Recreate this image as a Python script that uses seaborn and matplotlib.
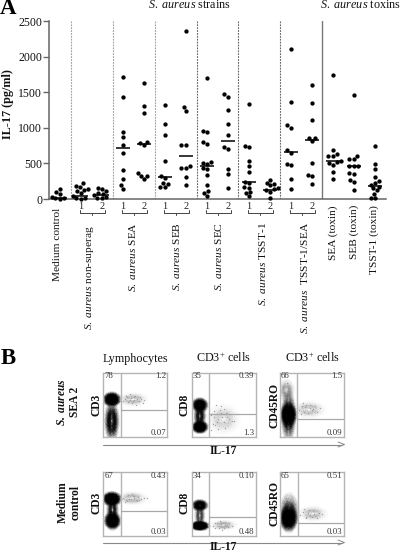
import warnings
import numpy as np
import pandas as pd
import matplotlib
matplotlib.use("Agg")
import matplotlib.pyplot as plt
from matplotlib.lines import Line2D
from matplotlib.colors import LinearSegmentedColormap
from matplotlib.transforms import blended_transform_factory
import seaborn as sns

warnings.filterwarnings("ignore")
sns.set_theme(style="white")
plt.rcParams["font.family"] = ["Liberation Serif", "DejaVu Serif"]
plt.rcParams["mathtext.fontset"] = "custom"
plt.rcParams["mathtext.rm"] = "Liberation Serif"
plt.rcParams["mathtext.it"] = "Liberation Serif:italic"
plt.rcParams["mathtext.bf"] = "Liberation Serif:bold"
plt.rcParams["mathtext.bfit"] = "Liberation Serif:italic:bold"

# ---- Panel A data (pg/ml) ----
categories = ["Medium", "NS1", "NS2", "SEA1", "SEA2", "SEB1", "SEB2", "SEC1", "SEC2",
              "TSST1", "TSST2", "TS1", "TS2", "SEAt", "SEBt", "TSSTt"]
medium = [140, 100, 70, 30, 20, 8, 5]
nonsuper_1 = [225, 185, 173, 140, 130, 115, 80, 40, 20, 10, 5]
nonsuper_2 = [155, 136, 110, 80, 70, 55, 35, 15, 10]
sea_1 = [1717, 1436, 940, 866, 762, 646, 403, 276, 192, 140]
sea_2 = [1624, 1301, 1212, 805, 790, 760, 360, 330, 330, 280]
seb_1 = [1320, 1049, 899, 529, 323, 295, 225, 215, 170, 165]
seb_2 = [2359, 1296, 1240, 758, 758, 468, 431, 431, 313, 197]
sec_1 = [1703, 959, 940, 796, 772, 524, 500, 490, 431, 425, 337, 197, 117, 88, 42]
sec_2 = [1470, 1436, 1250, 1053, 894, 730, 702, 426, 347, 159]
tsst_1 = [1330, 748, 730, 534, 468, 379, 243, 225, 164, 160, 100, 88, 42]
tsst_2 = [267, 229, 206, 190, 150, 135, 120, 100, 14]
ts_sea_1 = [2102, 1366, 1035, 997, 688, 650, 496, 477, 276, 136]
ts_sea_2 = [1600, 1343, 1105, 856, 850, 810, 510, 343, 327, 206]
sea_toxin = [1745, 688, 636, 604, 600, 530, 515, 500, 480, 383, 285]
seb_toxin = [1456, 608, 566, 560, 468, 465, 460, 361, 355, 267, 239, 126]
tsst_toxin = [748, 496, 421, 313, 253, 225, 200, 175, 150, 120, 70, 20, 10]
medians = [20, 42, 52, 710, 770, 305, 608, 459, 814, 234, 126, 656, 828, 534, 468, 183]

series_values = [medium, nonsuper_1, nonsuper_2, sea_1, sea_2, seb_1, seb_2, sec_1, sec_2,
                 tsst_1, tsst_2, ts_sea_1, ts_sea_2, sea_toxin, seb_toxin, tsst_toxin]
df = pd.DataFrame({"group": [c for c, v in zip(categories, series_values) for _ in v],
                   "value": [x for v in series_values for x in v]})

ytick_values = [0, 500, 1000, 1500, 2000, 2500]

# ---- Panel B: read-off cell populations (fractions of plot width / height) ----
b_corner = [["78", "1.2", "0.07"], ["35", "0.39", "1.3"], ["66", "1.5", "0.09"],
            ["67", "0.43", "0.03"], ["34", "0.10", "0.48"], ["65", "0.51", "0.03"]]
b_ylabels = ["CD3", "CD8", "CD45RO", "CD3", "CD8", "CD45RO"]
b_gate_x = [0.27, 0.27, 0.27, 0.28, 0.28, 0.29]
b_gate_y = [0.41, 0.35, 0.27, 0.39, 0.29, 0.21]

# each panel: populations as (centre x, centre y, half-width, half-height, darkness)
pop_sea_cd3 = [(.13, .24, .045, .13, .45), (.13, .58, .055, .045, 1.0), (.46, .58, .09, .04, .05)]
pop_sea_cd8 = [(.13, .32, .035, .07, .35), (.13, .49, .05, .045, .8), (.13, .15, .05, .04, 1.0), (.50, .27, .10, .09, .05)]
pop_sea_ro = [(.14, .32, .045, .16, .4), (.14, .34, .05, .075, 1.0), (.11, .72, .05, .07, .08), (.46, .42, .10, .05, .05)]
pop_med_cd3 = [(.14, .41, .035, .08, .3), (.13, .58, .06, .045, 1.0), (.14, .24, .05, .055, 1.0), (.45, .59, .09, .04, .05)]
pop_med_cd8 = [(.13, .32, .03, .08, .18), (.13, .48, .05, .035, .65), (.13, .16, .06, .03, 1.0), (.50, .17, .08, .03, .05)]
pop_med_ro = [(.15, .36, .06, .12, .3), (.14, .28, .055, .08, 1.0), (.52, .35, .09, .045, .05)]
populations = [pop_sea_cd3, pop_sea_cd8, pop_sea_ro, pop_med_cd3, pop_med_cd8, pop_med_ro]

faint_x = [
    [.31, .36, .39, .43, .47, .49, .55, .58, .64, .35, .44, .48, .53, .41, .46, .57, .33, .42, .61, .51],
    [.30, .35, .41, .46, .51, .55, .63, .37, .44, .48, .53, .58, .33, .42, .38, .46, .66, .31, .54, .40, .35, .50],
    [.31, .35, .39, .42, .47, .51, .55, .58, .64, .36, .44, .48, .53, .10, .14, .12, .16, .08, .40, .33],
    [.30, .35, .38, .43, .46, .51, .54, .59, .63, .36, .44, .48, .52, .40, .47, .56, .68, .33],
    [.34, .37, .43, .46, .51, .55, .58, .64, .44, .48, .53, .40, .36, .57],
    [.32, .37, .41, .44, .48, .53, .56, .61, .66, .42, .46, .50, .54, .38, .10, .18, .24, .58],
]
faint_y = [
    [.56, .61, .54, .60, .57, .63, .55, .59, .57, .64, .52, .61, .58, .57, .55, .62, .59, .66, .53, .50],
    [.33, .40, .28, .36, .22, .30, .25, .18, .42, .31, .14, .27, .20, .12, .50, .47, .24, .10, .36, .22, .30, .43],
    [.42, .48, .38, .50, .44, .41, .47, .39, .45, .53, .36, .49, .43, .78, .72, .84, .66, .70, .46, .35],
    [.60, .57, .64, .58, .62, .56, .61, .58, .59, .55, .66, .60, .54, .58, .63, .56, .60, .53],
    [.15, .20, .13, .18, .12, .17, .20, .15, .23, .10, .17, .21, .12, .14],
    [.33, .38, .30, .36, .33, .39, .32, .36, .34, .28, .41, .30, .35, .42, .60, .55, .50, .28],
]


def pop_cmap(level):
    return LinearSegmentedColormap.from_list(
        "flow", [(0, (0, 0, 0, 0.08 * min(1, level * 2))), (0.35, (0, 0, 0, 0.5 * level)),
                 (0.6, (0, 0, 0, level)), (1, (0, 0, 0, level))])


# ---- Figure ----
W, H = 400, 553
fig = plt.figure(figsize=(W / 100, H / 100), dpi=100, facecolor="white")


def axes_px(x0, y0, x1, y1):
    return fig.add_axes([x0 / W, 1 - y1 / H, (x1 - x0) / W, (y1 - y0) / H])


def ftext(px, py, s, **kw):
    kw.setdefault("ha", "center")
    kw.setdefault("va", "center")
    kw.setdefault("color", "#111111")
    fig.text(px / W, 1 - py / H, s, **kw)


def yf(py):
    return 1 - py / H


# ---- Panel A ----
ax = axes_px(49, 21, 386, 199)
sns.swarmplot(data=df, x="group", y="value", order=categories, color="black", size=3.1,
              linewidth=0, ax=ax, clip_on=False, zorder=3)
ax.set_xlim(-0.524, 15.524)
ax.set_ylim(0, 2500)
ax.hlines(medians, np.arange(len(medians)) - 0.33, np.arange(len(medians)) + 0.33,
          color="black", lw=1.1, zorder=4)
for i, pos in enumerate([0.5, 2.5, 4.5, 6.5, 8.5, 10.5]):
    ax.axvline(pos, color="#a0a0a0" if i < 3 else "#666666", lw=0.8, ls=(0, (1.6, 1.0)))
ax.axvline(12.5, color="#777777", lw=1.0)
sns.despine(ax=ax)
for side in ("left", "bottom"):
    ax.spines[side].set_color("#666666")
    ax.spines[side].set_linewidth(1.1)
ax.set_xticks([])
ax.set_xlabel("")
ax.set_ylabel("")
ax.set_yticks(ytick_values)
ax.tick_params(axis="y", length=4, width=1.0, color="#666666", labelsize=8.5,
               labelcolor="#111111", pad=1, left=True)

trans = blended_transform_factory(ax.transData, fig.transFigure)
for i in [1, 3, 5, 7, 9, 11]:
    ax.text(i, yf(206.5), "1", transform=trans, ha="center", va="center", fontsize=7.5, color="#222222")
    ax.text(i + 1, yf(206.5), "2", transform=trans, ha="center", va="center", fontsize=7.5, color="#222222")
    a, b = i - 0.07, i + 1.14
    ax.plot([a, a, b, b], [yf(210.5), yf(213), yf(213), yf(210.5)], transform=trans,
            color="#444444", lw=0.7, clip_on=False)
    ax.plot([(a + b) / 2] * 2, [yf(213), yf(215.5)], transform=trans, color="#444444", lw=0.7, clip_on=False)

lab = dict(rotation=90, fontsize=8.2, va="top")
ftext(58, 208, "Medium control", **lab)
ftext(90, 225, r"$\mathit{S.\ aureus}$ non-superag", **lab)
ftext(132, 222, r"$\mathit{S.\ aureus}$ SEA", **lab)
ftext(176, 222, r"$\mathit{S.\ aureus}$ SEB", **lab)
ftext(218, 222, r"$\mathit{S.\ aureus}$ SEC", **lab)
ftext(262, 222, r"$\mathit{S.\ aureus}$ TSST-1", **lab)
ftext(305, 222, r"$\mathit{S.\ aureus}$  TSST-1/SEA", **lab)
ftext(333, 205, "SEA (toxin)", **lab)
ftext(354, 205, "SEB (toxin)", **lab)
ftext(374, 205, "TSST-1 (toxin)", **lab)

ftext(189, 5.5, r"$\mathit{S.\ aureus}$ strains", fontsize=8.7)
ftext(360, 5.5, r"$\mathit{S.\ aureus}$ toxins", fontsize=8.7)
ftext(8, 104, "IL-17 (pg/ml)", rotation=90, fontsize=8.7, fontweight="bold")
ftext(8, 9, "A", fontsize=16.5, fontweight="bold", color="black")
ftext(8, 358, "B", fontsize=16.5, fontweight="bold", color="black")

# ---- Panel B ----
panel_x = [(103.5, 167.5), (191.5, 255.5), (279.5, 343.5)]
panel_y = [(372.5, 436.5), (472, 536)]
for k in range(6):
    r, c = k // 3, k % 3
    a = axes_px(panel_x[c][0], panel_y[r][0], panel_x[c][1], panel_y[r][1])
    for cx, cy, rx, ry, level in populations[k]:
        sns.kdeplot(x=[cx, cx - rx, cx + rx, cx, cx], y=[cy, cy, cy, cy - ry, cy + ry],
                    fill=True, levels=24, thresh=0.07, cmap=pop_cmap(level), bw_adjust=1.9,
                    clip=((0, 1), (0, 1)), ax=a, gridsize=90, zorder=1, antialiased=False)
    sns.scatterplot(x=faint_x[k], y=faint_y[k], s=0.9, color="#a0a0a0", linewidth=0, ax=a, zorder=1)
    a.set_xlim(0, 1)
    a.set_ylim(0, 1)
    a.set_xticks([])
    a.set_yticks([])
    a.set_xlabel("")
    a.set_ylabel("")
    for s in a.spines.values():
        s.set_color("#b4b4b4")
        s.set_linewidth(1.0)
    a.axvline(b_gate_x[k], color="#b4b4b4", lw=1.0, zorder=2)
    a.plot([b_gate_x[k], 1], [b_gate_y[k]] * 2, color="#a8a8a8", lw=0.9, zorder=2)
    tl, tr, br = b_corner[k]
    a.text(0.015, 0.945, tl, transform=a.transAxes, fontsize=6.3, ha="left", va="center", color="#333333")
    a.text(0.985, 0.945, tr, transform=a.transAxes, fontsize=6.3, ha="right", va="center", color="#333333")
    a.text(0.985, 0.06, br, transform=a.transAxes, fontsize=6.3, ha="right", va="center", color="#333333")

ylab_x = [97, 185, 274]
ylab_y = [405, 503]
for k in range(6):
    ftext(ylab_x[k % 3], ylab_y[k // 3], b_ylabels[k], rotation=90, fontsize=8.3, fontweight="bold")

for py in (444.5, 542.5):
    fig.add_artist(Line2D([103 / W, 342 / W], [yf(py)] * 2, color="#888888", lw=0.8))
    fig.add_artist(Line2D([338 / W, 344.5 / W, 338 / W],
                          [yf(py - 2.5), yf(py), yf(py + 2.5)], color="#888888", lw=0.7))
ftext(223, 451.5, "IL-17", fontsize=8.3, fontweight="bold")
ftext(223, 547.3, "IL-17", fontsize=8.3, fontweight="bold")
ftext(135, 359, "Lymphocytes", fontsize=8.7)
ftext(223, 358.5, r"CD3$^{+}$ cells", fontsize=8.7)
ftext(312, 358.5, r"CD3$^{+}$ cells", fontsize=8.7)
ftext(68.5, 402, r"$\mathbfit{S.\ aureus}$" + "\nSEA 2", rotation=90, fontsize=8.3,
      fontweight="bold", linespacing=1.05, multialignment="center")
ftext(69.5, 502, "Medium\ncontrol", rotation=90, fontsize=8.3, fontweight="bold",
      linespacing=1.05, multialignment="center")

fig.savefig("out.png", dpi=100, facecolor="white")
